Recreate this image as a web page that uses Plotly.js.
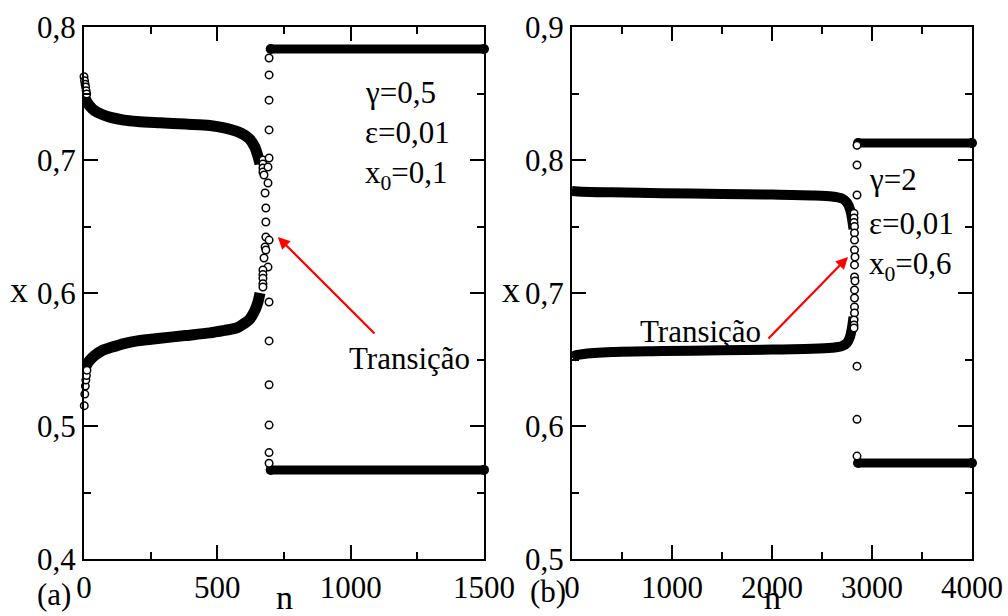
<!DOCTYPE html>
<html>
<head>
<meta charset="utf-8">
<script src="https://cdn.plot.ly/plotly-3.0.1.min.js"></script>
<style>
  html, body { margin: 0; padding: 0; background: #fff; }
  #chart { width: 1008px; height: 616px; }
</style>
</head>
<body>
<div id="chart"></div>
<script>
// ---------- Panel (a): gamma = 0,5, eps = 0,01, x0 = 0,1 ----------
// slowly drifting period-2 branches before the transition
const nA_up = [3, 10, 20, 40, 70, 100, 150, 200, 285, 380, 472, 530, 573, 600, 620, 640, 652, 660];
const xA_up = [0.747, 0.744, 0.741, 0.737, 0.734, 0.732, 0.730, 0.729, 0.728, 0.727, 0.726, 0.724, 0.7215, 0.719, 0.716, 0.710, 0.703, 0.697];
const nA_lo = [3, 10, 20, 40, 70, 100, 150, 200, 285, 380, 472, 530, 573, 600, 620, 640, 652, 660];
const xA_lo = [0.542, 0.546, 0.549, 0.553, 0.557, 0.559, 0.562, 0.564, 0.566, 0.568, 0.570, 0.572, 0.5737, 0.577, 0.580, 0.5865, 0.593, 0.600];
// first iterates
const nA_first = [0, 2, 4, 6, 8, 10, 1, 3, 5, 7, 9, 11];
const xA_first = [0.7626, 0.7596, 0.757, 0.7549, 0.752, 0.7496, 0.5153, 0.524, 0.530, 0.5346, 0.538, 0.542];
// iterates during the transition
const nA_jump = [671, 671, 671, 671, 690, 675, 690, 679, 682, 682, 682, 694, 679, 682, 675, 690, 671, 671, 671, 671, 671,
                 694, 694, 694, 694, 694, 694, 694, 694, 694, 694, 694];
const xA_jump = [0.700, 0.697, 0.694, 0.691, 0.6947, 0.6887, 0.6827, 0.6752, 0.6639, 0.6534, 0.6421, 0.6398, 0.6346, 0.6323, 0.6263, 0.6195, 0.6173, 0.614, 0.611, 0.607, 0.6045,
                 0.7767, 0.764, 0.745, 0.7226, 0.7015, 0.5932, 0.564, 0.531, 0.5007, 0.480, 0.472];
// new period-2 orbit after the transition
const nA_after = [700, 1500];
const xA_after_up = [0.7835, 0.7835];
const xA_after_lo = [0.467, 0.467];

// ---------- Panel (b): gamma = 2, eps = 0,01, x0 = 0,6 ----------
const nB_up = [0, 100, 400, 900, 1500, 2000, 2400, 2600, 2700, 2750, 2780, 2800, 2815];
const xB_up = [0.7767, 0.7762, 0.7757, 0.775, 0.7745, 0.774, 0.7733, 0.7725, 0.771, 0.768, 0.763, 0.756, 0.748];
const nB_lo = [0, 30, 100, 400, 900, 1500, 2000, 2400, 2600, 2700, 2750, 2780, 2800, 2815];
const xB_lo = [0.6515, 0.653, 0.654, 0.6556, 0.6563, 0.657, 0.6575, 0.658, 0.6588, 0.660, 0.6625, 0.667, 0.674, 0.682];
const nB_jump = [2850, 2820, 2820, 2820, 2825, 2825, 2825, 2825, 2830, 2825, 2825, 2830, 2825, 2825, 2825, 2825, 2820, 2820, 2820,
                 2850, 2850, 2850, 2850, 2850];
const xB_jump = [0.7737, 0.760, 0.7564, 0.753, 0.750, 0.7451, 0.7398, 0.7323, 0.7271, 0.7211, 0.712, 0.709, 0.7023, 0.6962, 0.6895, 0.685, 0.6797, 0.676, 0.6737,
                 0.811, 0.7962, 0.645, 0.605, 0.5774];
const nB_after = [2860, 4000];
const xB_after_up = [0.8128, 0.8128];
const xB_after_lo = [0.5722, 0.5722];

// ---------- styling ----------
const FONT = "'Liberation Serif', 'Times New Roman', serif";
const W = 1008, H = 616;
const px = v => v / W;          // horizontal pixel -> paper
const py = v => 1 - v / H;      // vertical pixel -> paper

function band(x, y, xa, ya, w) {
  return { x, y, xaxis: xa, yaxis: ya, type: 'scatter', mode: 'lines',
           line: { color: '#000', width: w, shape: 'spline', smoothing: 0.8 },
           hoverinfo: 'skip', showlegend: false };
}
function flat(x, y, xa, ya) {
  return { x, y, xaxis: xa, yaxis: ya, type: 'scatter', mode: 'lines+markers',
           line: { color: '#000', width: 9 },
           marker: { color: '#000', size: 10, symbol: 'circle' },
           cliponaxis: false, hoverinfo: 'skip', showlegend: false };
}
function dots(x, y, xa, ya) {
  return { x, y, xaxis: xa, yaxis: ya, type: 'scatter', mode: 'markers',
           marker: { color: '#fff', size: 7.5, symbol: 'circle', line: { color: '#000', width: 1.5 } },
           cliponaxis: false, hoverinfo: 'skip', showlegend: false };
}

const traces = [
  band(nA_up, xA_up, 'x', 'y', 11),
  band(nA_lo, xA_lo, 'x', 'y', 11),
  flat(nA_after, xA_after_up, 'x', 'y'),
  flat(nA_after, xA_after_lo, 'x', 'y'),
  dots(nA_first, xA_first, 'x', 'y'),
  dots(nA_jump, xA_jump, 'x', 'y'),

  band(nB_up, xB_up, 'x2', 'y2', 10),
  band(nB_lo, xB_lo, 'x2', 'y2', 10),
  flat(nB_after, xB_after_up, 'x2', 'y2'),
  flat(nB_after, xB_after_lo, 'x2', 'y2'),
  dots(nB_jump, xB_jump, 'x2', 'y2')
];

function axis(range, dtick, minor, domain, anchor, fmt) {
  const a = {
    range, domain, anchor, dtick, tick0: range[0],
    showline: true, linecolor: '#000', linewidth: 2, mirror: 'ticks',
    ticks: 'inside', ticklen: 14, tickwidth: 2, tickcolor: '#000',
    minor: { ticks: 'inside', ticklen: 7, tickwidth: 2, tickcolor: '#000', dtick: minor, showgrid: false },
    showgrid: false, zeroline: false,
    tickfont: { family: FONT, size: 31, color: '#000' }
  };
  if (fmt) a.tickformat = fmt;
  return a;
}

const txt = (text, x, y, xref, yref, xanchor, size, yanchor) => ({
  text, x, y, xref, yref, xanchor: xanchor || 'left', yanchor: yanchor || 'middle', showarrow: false,
  font: { family: FONT, size: size || 31, color: '#000' }
});
const arrow = (x, y, ax, ay, xref, yref) => ({
  text: '', x, y, ax, ay, xref, yref, axref: xref, ayref: yref,
  showarrow: true, arrowhead: 2, arrowsize: 1.1, arrowwidth: 2.2, arrowcolor: '#ff0000'
});

const layout = {
  width: W, height: H,
  margin: { l: 0, r: 0, t: 0, b: 0 },
  paper_bgcolor: '#fff', plot_bgcolor: '#fff',
  font: { family: FONT, size: 31, color: '#000' },
  separators: ',.',
  showlegend: false,
  xaxis:  axis([0, 1500], 500, 250, [px(84), px(484)], 'y'),
  yaxis:  axis([0.4, 0.8], 0.1, 0.05, [py(559), py(27)], 'x', '.1f'),
  xaxis2: axis([0, 4000], 1000, 500, [px(572), px(972)], 'y2'),
  yaxis2: axis([0.5, 0.9], 0.1, 0.05, [py(559), py(27)], 'x2', '.1f'),
  annotations: [
    // panel (a)
    txt('γ=0,5', 1046, 0.7504, 'x', 'y'),
    txt('ε=0,01', 1046, 0.721, 'x', 'y'),
    txt('x<sub>0</sub>=0,1', 1046, 0.689, 'x', 'y'),
    txt('Transição', 986, 0.5511, 'x', 'y'),
    arrow(727, 0.6421, 1095, 0.5684, 'x', 'y'),
    // panel (b)
    txt('γ=2', 2950, 0.785, 'x2', 'y2'),
    txt('ε=0,01', 2950, 0.7526, 'x2', 'y2'),
    txt('x<sub>0</sub>=0,6', 2950, 0.720, 'x2', 'y2'),
    txt('Transição', 660, 0.6707, 'x2', 'y2'),
    arrow(2760, 0.7271, 1950, 0.6647, 'x2', 'y2'),
    // axis labels and panel tags
    txt('x', px(19), py(290), 'paper', 'paper', 'center', 36),
    txt('x', px(511), py(290), 'paper', 'paper', 'center', 36),
    Object.assign(txt('n', px(284), 0, 'paper', 'paper', 'center', 34, 'bottom'), { yshift: -2 }),
    Object.assign(txt('n', px(772), 0, 'paper', 'paper', 'center', 34, 'bottom'), { yshift: -2 }),
    txt('(a)', px(54), py(594), 'paper', 'paper', 'center', 31),
    txt('(b)', px(548), py(591), 'paper', 'paper', 'center', 31)
  ]
};

Plotly.newPlot('chart', traces, layout, { staticPlot: true, displayModeBar: false });
</script>
</body>
</html>
